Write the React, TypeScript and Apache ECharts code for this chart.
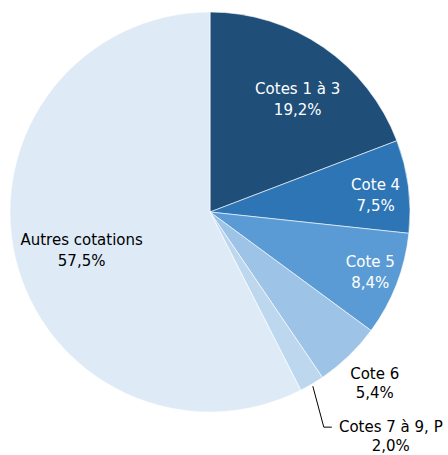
import React, { useEffect, useRef } from "react";
import * as echarts from "echarts";

const categories = ["Cotes 1 à 3", "Cote 4", "Cote 5", "Cote 6", "Cotes 7 à 9, P", "Autres cotations"];
const values = [19.2, 7.5, 8.4, 5.4, 2.0, 57.5];
const colors = ["#1F4E79", "#2E75B6", "#5B9BD5", "#9DC3E6", "#BDD7EE", "#DEEBF7"];
const labelColors = ["#ffffff", "#ffffff", "#ffffff", "#000000", "#000000", "#000000"];

const W = 448;
const H = 455;
const CX = 210;
const CY = 212;
const R = 200;
// label placement: radial factor for inner labels, or offset from the slice edge
const labelRadial: (number | null)[] = [0.72, 0.83, 0.86, null, null, 0.66];
const labelNudge: [number, number][] = [[6, 6], [1, 5], [0, -2], [0, 0], [0, 0], [0, 8]];
const labelEdgeOffset: ([number, number] | null)[] = [null, null, null, [26, 27], [79, 52], null];

function midAngle(i: number): number {
  const total = values.reduce((a, b) => a + b, 0);
  let c = 0;
  for (let k = 0; k < i; k++) c += values[k];
  return ((c + values[i] / 2) / total) * Math.PI * 2;
}
function polar(theta: number, r: number): [number, number] {
  return [CX + r * Math.sin(theta), CY - r * Math.cos(theta)];
}
function fmt(v: number): string {
  return v.toFixed(1).replace(".", ",") + "%";
}

export default function App() {
  const ref = useRef<HTMLDivElement>(null);
  useEffect(() => {
    if (!ref.current) return;
    const chart = echarts.init(ref.current, undefined, { renderer: "svg" });
    chart.setOption({
      animation: false,
      series: [
        {
          type: "pie",
          center: [CX, CY],
          radius: [0, R],
          startAngle: 90,
          clockwise: true,
          avoidLabelOverlap: false,
          itemStyle: { borderColor: "#ffffff", borderWidth: 0.6 },
          label: {
            show: true,
            position: "outside",
            fontFamily: "DejaVu Sans",
            fontSize: 15,
            lineHeight: 21,
            align: "center",
            formatter: (p: any) => `${p.name}\n${fmt(p.value)}`,
          },
          labelLine: { show: false },
          labelLayout: (p: any) => {
            const i = p.dataIndex;
            const th = midAngle(i);
            if (labelRadial[i] != null) {
              const [x, y] = polar(th, R * (labelRadial[i] as number));
              return {
                x: x + labelNudge[i][0],
                y: y + labelNudge[i][1],
                align: "center",
                verticalAlign: "middle",
              };
            }
            const [ex, ey] = polar(th, R);
            const off = labelEdgeOffset[i] as [number, number];
            const x = ex + off[0];
            const y = ey + off[1];
            const res: any = { x, y, align: "center", verticalAlign: "middle" };
            if (i === 4) {
              res.labelLinePoints = [
                [ex + 1, ey + 2],
                [ex + 12, y - 9],
                [ex + 20, y - 9],
              ];
            }
            return res;
          },
          data: categories.map((name, i) => ({
            name,
            value: values[i],
            itemStyle: { color: colors[i] },
            label: {
              color: labelColors[i],
              lineHeight: i === 3 || i === 4 ? 19 : 21,
            },
            labelLine:
              i === 4
                ? { show: true, length: 30, length2: 8, lineStyle: { color: "#000000", width: 1 } }
                : { show: false },
          })),
        },
      ],
    });
    return () => chart.dispose();
  }, []);
  return (
    <div
      ref={ref}
      style={{ position: "fixed", left: 0, top: 0, width: W, height: H, background: "#ffffff" }}
    />
  );
}
